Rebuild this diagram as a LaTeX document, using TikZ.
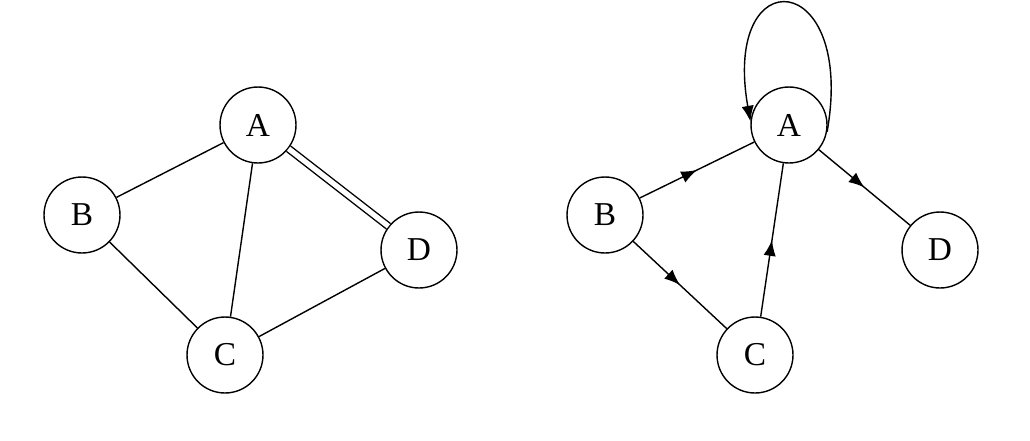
\documentclass[tikz,border=0pt]{standalone}
\usepackage{fontspec}
\setmainfont{Liberation Serif}
\usetikzlibrary{decorations.markings,arrows.meta}

\begin{document}
\begin{tikzpicture}[
		x=0.02cm, y=-0.02cm,
		vertex/.style={circle,draw,line width=0.8pt,minimum size=1.52cm,inner sep=0pt,font=\fontsize{19}{19}\selectfont},
		edge/.style={line width=0.8pt},
		midarrow/.style={edge,postaction={decorate},decoration={markings,
			mark=at position 0.5 with {\arrow{Latex[length=9pt,width=7pt]}}}}]
		\useasboundingbox (0,0) rectangle (1030,440);
		% undirected graph
		\node[vertex] (a) at (258,125) {A};
		\node[vertex] (b) at (82,215) {B};
		\node[vertex] (c) at (225,355) {C};
		\node[vertex] (d) at (419,250) {D};
		\draw[edge] (a) -- (b);
		\draw[edge] (a) -- (c);
		\draw[edge] (b) -- (c);
		\draw[edge] (c) -- (d);
		\draw[edge,double,double distance=3pt] (a) -- (d);
		% directed graph
		\node[vertex] (a2) at (789,125) {A};
		\node[vertex] (b2) at (605,215) {B};
		\node[vertex] (c2) at (755,355) {C};
		\node[vertex] (d2) at (940,250) {D};
		\draw[midarrow] (b2) -- (a2);
		\draw[midarrow] (b2) -- (c2);
		\draw[midarrow] (c2) -- (a2);
		\draw[midarrow] (a2) -- (d2);
		\draw[edge,-{Latex[length=9pt,width=7pt]}] (a2.-10) to[out=80,in=100,looseness=5.5] (a2.175);
\end{tikzpicture}
\end{document}
